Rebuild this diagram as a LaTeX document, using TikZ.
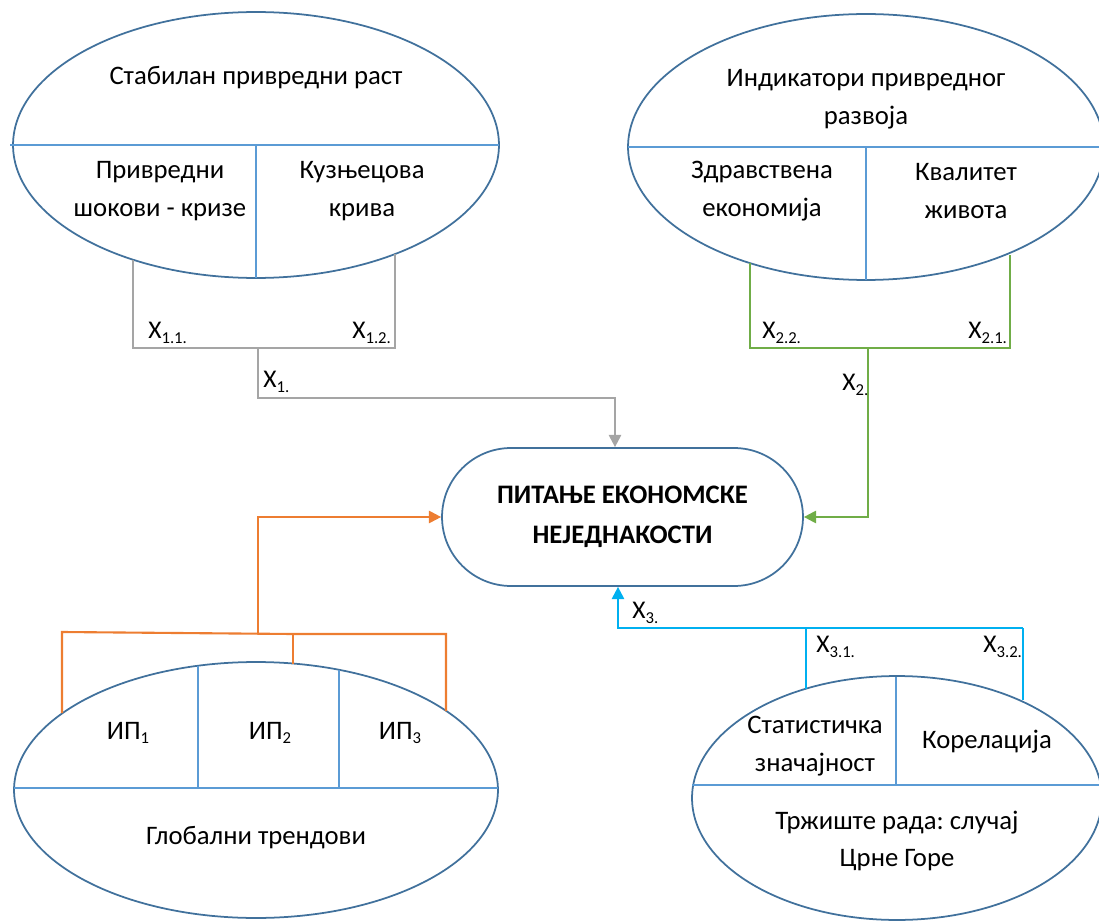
\documentclass[tikz,border=0pt]{standalone}
\usepackage{fontspec}
\setmainfont{Carlito}
\usetikzlibrary{shapes.geometric,arrows.meta}
\definecolor{outl}{RGB}{65,113,156}
\definecolor{divl}{RGB}{91,155,213}
\definecolor{cgrey}{RGB}{165,165,165}
\definecolor{cgreen}{RGB}{112,173,71}
\definecolor{corange}{RGB}{237,125,49}
\definecolor{ccyan}{RGB}{0,176,240}
\newcommand{\sbs}[1]{\raisebox{-0.35ex}{\fontsize{9.5}{9.5}\selectfont #1}}
\tikzset{
  oval/.style={ellipse, draw=outl, line width=1pt, inner sep=0pt, outer sep=0pt},
  divider/.style={draw=divl, line width=0.6pt},
  txt/.style={font=\fontsize{15.2}{21.5}\selectfont, align=center, inner sep=0pt},
  lbl/.style={font=\fontsize{14.5}{14.5}\selectfont, anchor=west, inner sep=0pt},
  conn/.style={line width=1.2pt},
  tip/.style={-{Triangle[length=7pt,width=7pt]}}
}
\begin{document}
\frenchspacing
\begin{tikzpicture}[x=0.02cm,y=-0.02cm]
\useasboundingbox (0,0) rectangle (1099,922);
\clip (0,0) rectangle (1099,922);

% ---------- ellipse A (top-left)
\node[oval, minimum width=9.72cm, minimum height=5.32cm] (A) at (256,145) {};
\draw[divider] ([xshift=-0.06cm]A.west) -- (A.east);
\draw[divider] (A.center) -- (A.south);
\node[txt] (tA)  at (256,78)  {Стабилан привредни раст};
\node[txt] (tA1) at (160,191) {Привредни\\шокови - кризе};
\node[txt] (tA2) at (362,191) {Кузњецова\\крива};

% ---------- ellipse B (top-right)
\node[oval, minimum width=9.52cm, minimum height=5.32cm] (B) at (866,147) {};
\draw[divider] (B.west) -- (B.east);
\draw[divider] (B.center) -- (B.south);
\node[txt] (tB)  at (866,99)  {Индикатори привредног\\развоја};
\node[txt] (tB1) at (762,191) {Здравствена\\економија};
\node[txt] (tB2) at (966,191) {Квалитет\\живота};

% ---------- center node
\node[draw=outl, line width=1pt, rounded corners=1.38cm, minimum width=7.22cm,
      minimum height=2.76cm, align=center, inner sep=0pt,
      font=\fontsize{15.2}{22.5}\selectfont\bfseries] (C) at (622.5,517)
      {ПИТАЊЕ ЕКОНОМСКЕ\\НЕЈЕДНАКОСТИ};

% ---------- ellipse G (bottom-left)
\node[oval, minimum width=9.68cm, minimum height=5.12cm] (G) at (256,790) {};
\coordinate (gH) at (256,788);
\draw[divider] (G.west |- gH) -- (G.east |- gH);
\coordinate (gd1) at (198,666);
\coordinate (gd2) at (339,670);
\draw[divider] (gd1) -- (gd1 |- gH);
\draw[divider] (gd2) -- (gd2 |- gH);
\node[txt] (tG1) at (128,733) {ИП\sbs{1}};
\node[txt] (tG2) at (270,733) {ИП\sbs{2}};
\node[txt] (tG3) at (400,733) {ИП\sbs{3}};
\node[txt] (tG)  at (256,838) {Глобални трендови};

% ---------- ellipse D (bottom-right)
\node[oval, minimum width=8.2cm, minimum height=4.88cm] (D) at (897,798) {};
\coordinate (dH) at (897,785);
\coordinate (dT) at (896,677);
\draw[divider] (D.west |- dH) -- (D.east |- dH);
\draw[divider] (dT) -- (dT |- dH);
\node[txt] (tD1) at (815,746) {Статистичка\\значајност};
\node[txt] (tD2) at (987,742) {Корелација};
\node[txt] (tD)  at (897,841) {Тржиште рада: случај\\Црне Горе};

% ---------- grey connectors (X1)
\coordinate (aL) at (133,260);
\coordinate (aR) at (395,254);
\coordinate (aBL) at (133,348);
\coordinate (aBR) at (395,348);
\coordinate (aM) at (258,348);
\coordinate (aK) at (615,398);
\draw[conn, cgrey] (aL) -- (aBL) -- (aBR) -- (aR);
\draw[conn, cgrey, tip] (aM) |- (aK) -- (aK |- C.north);
\node[lbl] (x11) at (148,333) {X\sbs{1.1.}};
\node[lbl] (x12) at (352,333) {X\sbs{1.2.}};
\node[lbl] (x1)  at (263,382) {X\sbs{1.}};

% ---------- green connectors (X2)
\coordinate (bL) at (750,263);
\coordinate (bR) at (1010,255);
\coordinate (bBL) at (750,348);
\coordinate (bBR) at (1010,348);
\coordinate (bM) at (868,348);
\draw[conn, cgreen] (bL) -- (bBL) -- (bBR) -- (bR);
\draw[conn, cgreen, tip] (bM) |- (C.east);
\node[lbl] (x22) at (762,333) {X\sbs{2.2.}};
\node[lbl] (x21) at (968,333) {X\sbs{2.1.}};
\node[lbl] (x2)  at (842,385) {X\sbs{2.}};

% ---------- orange connectors
\coordinate (oL) at (62,713);
\coordinate (oM) at (293,664);
\coordinate (oR) at (446,711);
\coordinate (oTL) at (62,632);
\coordinate (oTM) at (293,634);
\coordinate (oTR) at (446,634);
\coordinate (oK) at (258,633);
\draw[conn, corange] (oL) -- (oTL) -- (oTM) -- (oTR) -- (oR);
\draw[conn, corange] (oM) -- (oTM);
\draw[conn, corange, tip] (oK) |- (C.west);

% ---------- cyan connectors (X3)
\coordinate (cL) at (806,689);
\coordinate (cR) at (1023,700);
\coordinate (cTL) at (806,628);
\coordinate (cTR) at (1023,628);
\coordinate (cK) at (618,628);
\draw[conn, ccyan] (cL) -- (cTL);
\draw[conn, ccyan] (cR) -- (cTR);
\draw[conn, ccyan, tip] (cTR) -- (cK) -- (cK |- C.south);
\node[lbl] (x3)  at (632,613) {X\sbs{3.}};
\node[lbl] (x31) at (816,647) {X\sbs{3.1.}};
\node[lbl] (x32) at (983,647) {X\sbs{3.2.}};
\end{tikzpicture}
\end{document}
